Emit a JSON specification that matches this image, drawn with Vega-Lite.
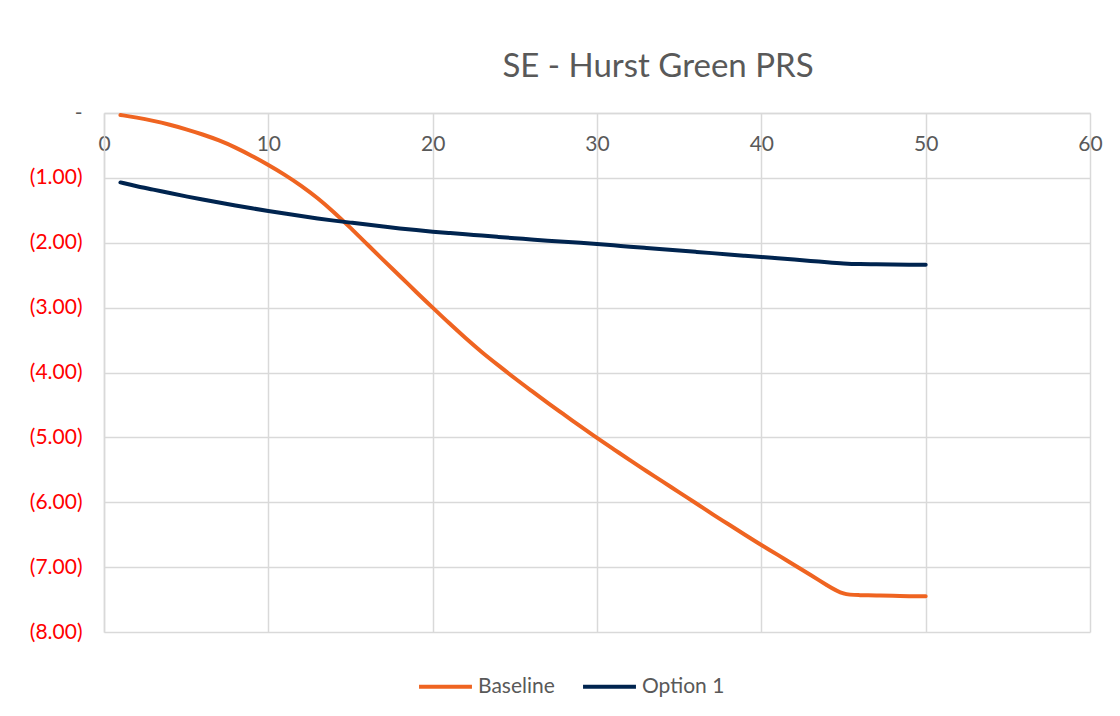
{
  "$schema": "https://vega.github.io/schema/vega-lite/v6.json",
  "autosize": "none",
  "width": 986,
  "height": 519,
  "padding": {"left": 104, "top": 113, "right": 30, "bottom": 84},
  "background": "white",
  "config": {
    "font": "Lato",
    "view": {"stroke": null}
  },
  "title": {
    "text": "SE - Hurst Green PRS",
    "font": "Lato",
    "fontSize": 33,
    "fontWeight": "normal",
    "color": "#595959",
    "anchor": "middle",
    "dx": 61,
    "offset": 18
  },
  "data": {
    "values": [
      {"x": 1, "series": "Baseline", "y": -0.03},
      {"x": 2, "series": "Baseline", "y": -0.07},
      {"x": 3, "series": "Baseline", "y": -0.12},
      {"x": 4, "series": "Baseline", "y": -0.18},
      {"x": 5, "series": "Baseline", "y": -0.25},
      {"x": 6, "series": "Baseline", "y": -0.33},
      {"x": 7, "series": "Baseline", "y": -0.42},
      {"x": 8, "series": "Baseline", "y": -0.53},
      {"x": 9, "series": "Baseline", "y": -0.66},
      {"x": 10, "series": "Baseline", "y": -0.8},
      {"x": 11, "series": "Baseline", "y": -0.95},
      {"x": 12, "series": "Baseline", "y": -1.12},
      {"x": 13, "series": "Baseline", "y": -1.31},
      {"x": 14, "series": "Baseline", "y": -1.53},
      {"x": 15, "series": "Baseline", "y": -1.77},
      {"x": 16, "series": "Baseline", "y": -2.02},
      {"x": 17, "series": "Baseline", "y": -2.27},
      {"x": 18, "series": "Baseline", "y": -2.51},
      {"x": 19, "series": "Baseline", "y": -2.76},
      {"x": 20, "series": "Baseline", "y": -3.0},
      {"x": 21, "series": "Baseline", "y": -3.24},
      {"x": 22, "series": "Baseline", "y": -3.47},
      {"x": 23, "series": "Baseline", "y": -3.69},
      {"x": 24, "series": "Baseline", "y": -3.89},
      {"x": 25, "series": "Baseline", "y": -4.09},
      {"x": 26, "series": "Baseline", "y": -4.28},
      {"x": 27, "series": "Baseline", "y": -4.47},
      {"x": 28, "series": "Baseline", "y": -4.65},
      {"x": 29, "series": "Baseline", "y": -4.83},
      {"x": 30, "series": "Baseline", "y": -5.01},
      {"x": 31, "series": "Baseline", "y": -5.18},
      {"x": 32, "series": "Baseline", "y": -5.35},
      {"x": 33, "series": "Baseline", "y": -5.52},
      {"x": 34, "series": "Baseline", "y": -5.68},
      {"x": 35, "series": "Baseline", "y": -5.85},
      {"x": 36, "series": "Baseline", "y": -6.01},
      {"x": 37, "series": "Baseline", "y": -6.18},
      {"x": 38, "series": "Baseline", "y": -6.34},
      {"x": 39, "series": "Baseline", "y": -6.5},
      {"x": 40, "series": "Baseline", "y": -6.66},
      {"x": 41, "series": "Baseline", "y": -6.81},
      {"x": 42, "series": "Baseline", "y": -6.97},
      {"x": 43, "series": "Baseline", "y": -7.12},
      {"x": 44, "series": "Baseline", "y": -7.28},
      {"x": 45, "series": "Baseline", "y": -7.43},
      {"x": 46, "series": "Baseline", "y": -7.43},
      {"x": 47, "series": "Baseline", "y": -7.44},
      {"x": 48, "series": "Baseline", "y": -7.44},
      {"x": 49, "series": "Baseline", "y": -7.45},
      {"x": 50, "series": "Baseline", "y": -7.45},
      {"x": 1, "series": "Option 1", "y": -1.07},
      {"x": 2, "series": "Option 1", "y": -1.13},
      {"x": 3, "series": "Option 1", "y": -1.18},
      {"x": 4, "series": "Option 1", "y": -1.235},
      {"x": 5, "series": "Option 1", "y": -1.285},
      {"x": 6, "series": "Option 1", "y": -1.335},
      {"x": 7, "series": "Option 1", "y": -1.38},
      {"x": 8, "series": "Option 1", "y": -1.425},
      {"x": 9, "series": "Option 1", "y": -1.47},
      {"x": 10, "series": "Option 1", "y": -1.51},
      {"x": 11, "series": "Option 1", "y": -1.55},
      {"x": 12, "series": "Option 1", "y": -1.59},
      {"x": 13, "series": "Option 1", "y": -1.625},
      {"x": 14, "series": "Option 1", "y": -1.66},
      {"x": 15, "series": "Option 1", "y": -1.69},
      {"x": 16, "series": "Option 1", "y": -1.72},
      {"x": 17, "series": "Option 1", "y": -1.75},
      {"x": 18, "series": "Option 1", "y": -1.78},
      {"x": 19, "series": "Option 1", "y": -1.805},
      {"x": 20, "series": "Option 1", "y": -1.83},
      {"x": 21, "series": "Option 1", "y": -1.85},
      {"x": 22, "series": "Option 1", "y": -1.87},
      {"x": 23, "series": "Option 1", "y": -1.89},
      {"x": 24, "series": "Option 1", "y": -1.91},
      {"x": 25, "series": "Option 1", "y": -1.93},
      {"x": 26, "series": "Option 1", "y": -1.95},
      {"x": 27, "series": "Option 1", "y": -1.97},
      {"x": 28, "series": "Option 1", "y": -1.985},
      {"x": 29, "series": "Option 1", "y": -2.0},
      {"x": 30, "series": "Option 1", "y": -2.02},
      {"x": 31, "series": "Option 1", "y": -2.04},
      {"x": 32, "series": "Option 1", "y": -2.06},
      {"x": 33, "series": "Option 1", "y": -2.08},
      {"x": 34, "series": "Option 1", "y": -2.1},
      {"x": 35, "series": "Option 1", "y": -2.12},
      {"x": 36, "series": "Option 1", "y": -2.14},
      {"x": 37, "series": "Option 1", "y": -2.16},
      {"x": 38, "series": "Option 1", "y": -2.18},
      {"x": 39, "series": "Option 1", "y": -2.2},
      {"x": 40, "series": "Option 1", "y": -2.22},
      {"x": 41, "series": "Option 1", "y": -2.24},
      {"x": 42, "series": "Option 1", "y": -2.26},
      {"x": 43, "series": "Option 1", "y": -2.28},
      {"x": 44, "series": "Option 1", "y": -2.3},
      {"x": 45, "series": "Option 1", "y": -2.32},
      {"x": 46, "series": "Option 1", "y": -2.33},
      {"x": 47, "series": "Option 1", "y": -2.33},
      {"x": 48, "series": "Option 1", "y": -2.335},
      {"x": 49, "series": "Option 1", "y": -2.34},
      {"x": 50, "series": "Option 1", "y": -2.34}
    ]
  },
  "mark": {"type": "line", "strokeWidth": 4, "interpolate": "basis", "strokeCap": "round"},
  "encoding": {
    "x": {
      "field": "x",
      "type": "quantitative",
      "scale": {"domain": [0, 60], "nice": false, "zero": false},
      "axis": {
        "orient": "top",
        "title": null,
        "values": [0, 10, 20, 30, 40, 50, 60],
        "labelFlush": false,
        "labelBaseline": "top",
        "labelPadding": -20,
        "labelFontSize": 21,
        "labelColor": "#595959",
        "labelFont": "Lato",
        "ticks": false,
        "domain": true,
        "domainColor": "#d9d9d9",
        "domainWidth": 1.5,
        "grid": true,
        "gridColor": "#d9d9d9",
        "gridWidth": 1.5
      }
    },
    "y": {
      "field": "y",
      "type": "quantitative",
      "scale": {"domain": [-8, 0], "nice": false, "zero": false},
      "axis": {
        "title": null,
        "values": [0, -1, -2, -3, -4, -5, -6, -7, -8],
        "labelExpr": "datum.value == 0 ? '-' : '(' + format(-datum.value, '.2f') + ')'",
        "labelColor": {"condition": {"test": "datum.value == 0", "value": "#595959"}, "value": "#ff0000"},
        "labelFontSize": 21,
        "labelFont": "Lato",
        "labelPadding": 22,
        "ticks": false,
        "domain": true,
        "domainColor": "#d9d9d9",
        "domainWidth": 1.5,
        "grid": true,
        "gridColor": "#d9d9d9",
        "gridWidth": 1.5
      }
    },
    "color": {
      "field": "series",
      "type": "nominal",
      "scale": {"domain": ["Baseline", "Option 1"], "range": ["#EF6421", "#00244F"]},
      "legend": {
        "title": null,
        "orient": "none",
        "direction": "horizontal",
        "legendX": 313,
        "legendY": 545,
        "symbolType": "stroke",
        "symbolSize": 2800,
        "symbolStrokeWidth": 4,
        "labelFontSize": 21,
        "labelFont": "Lato",
        "labelColor": "#595959",
        "labelOffset": 4,
        "columnPadding": 20
      }
    }
  }
}
